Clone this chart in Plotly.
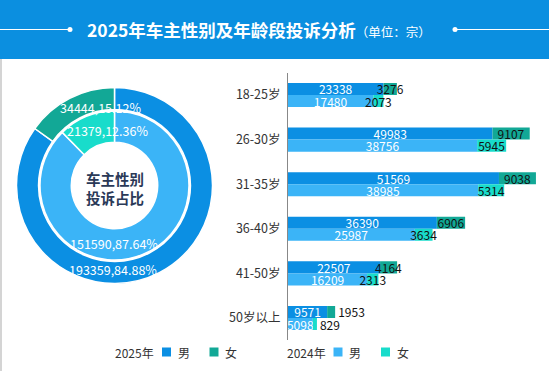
import plotly.graph_objects as go

# ---------------- data ----------------
categories = ['18-25岁', '26-30岁', '31-35岁', '36-40岁', '41-50岁', '50岁以上']
male_2025 = [23338, 49983, 51569, 36390, 22507, 9571]
female_2025 = [3276, 9107, 9038, 6906, 4164, 1953]
male_2024 = [17480, 38756, 38985, 25987, 16209, 5098]
female_2024 = [2073, 5945, 5314, 3634, 2313, 829]

gender_labels = ['男', '女']
gender_2025 = [193359, 34444]
gender_2024 = [151590, 21379]

year_labels = ['2025年', '2024年']
title_text = '2025年车主性别及年龄段投诉分析'
unit_text = '（单位：宗）'
center_text = ['车主性别', '投诉占比']

# ---------------- style ----------------
W, H = 549, 371
FONT = 'Noto Sans CJK SC, Microsoft YaHei, sans-serif'
C_M25 = '#0b8fe3'
C_F25 = '#12a896'
C_M24 = '#3bb4f7'
C_F24 = '#18dccb'
HEADER = '#0b8fe0'
# label placement for the small female segments (last row sits outside the bar)
female_textpos = ['inside'] * 5 + ['outside']


def px_x(v):
    return v / W


def px_y(v):
    return 1 - v / H


fig = go.Figure()

# ---------------- donut ----------------
def pie_domain(cx, cy, r):
    return dict(x=[px_x(cx - r), px_x(cx + r)], y=[px_y(cy + r), px_y(cy - r)])


fig.add_trace(go.Pie(
    labels=gender_labels, values=gender_2025, sort=False, direction='clockwise', rotation=0,
    hole=0.775, domain=pie_domain(114.5, 185.5, 98),
    marker=dict(colors=[C_M25, C_F25], line=dict(color='white', width=1.5)),
    textinfo='none', hoverinfo='skip', showlegend=False))
fig.add_trace(go.Pie(
    labels=gender_labels, values=gender_2024, sort=False, direction='clockwise', rotation=0,
    hole=0.58, domain=pie_domain(114.5, 185.5, 74.5),
    marker=dict(colors=[C_M24, C_F24], line=dict(color='white', width=1.5)),
    textinfo='none', hoverinfo='skip', showlegend=False))


def pct_label(vals, i):
    return f"{vals[i]},{vals[i] / sum(vals) * 100:.2f}%"


pie_label_pos = [
    (gender_2025, 1, 100, 108),
    (gender_2025, 0, 113, 269),
    (gender_2024, 1, 107, 130),
    (gender_2024, 0, 114, 243),
]
annotations = []
for vals, i, x, y in pie_label_pos:
    annotations.append(dict(
        text=pct_label(vals, i), x=px_x(x), y=px_y(y), xref='paper', yref='paper',
        showarrow=False, font=dict(family=FONT, size=12.5, color='white'),
        xanchor='center', yanchor='middle'))

annotations.append(dict(
    text='<b>' + '<br>'.join(center_text) + '</b>', x=px_x(114.5), y=px_y(187.5),
    xref='paper', yref='paper', showarrow=False,
    font=dict(family=FONT, size=14.5, color='#2a3957'), xanchor='center', yanchor='middle'))

# ---------------- bars ----------------
BW = 0.27
bar_common = dict(orientation='h', insidetextanchor='middle', showlegend=False,
                  textangle=0, constraintext='none', cliponaxis=False, hoverinfo='skip')
fig.add_trace(go.Bar(
    y=categories, x=male_2025, name='2025年 男',
    marker=dict(color=C_M25, line=dict(width=0)), width=BW, offset=-BW,
    text=male_2025, textposition='inside',
    textfont=dict(family=FONT, size=12, color='white'), **bar_common))
fig.add_trace(go.Bar(
    y=categories, x=female_2025, base=male_2025, name='2025年 女',
    marker=dict(color=C_F25, line=dict(width=0)), width=BW, offset=-BW,
    text=female_2025, textposition=female_textpos,
    textfont=dict(family=FONT, size=12, color='#111111'), **bar_common))
fig.add_trace(go.Bar(
    y=categories, x=male_2024, name='2024年 男', xaxis='x2',
    marker=dict(color=C_M24, line=dict(width=0)), width=BW, offset=0,
    text=male_2024, textposition='inside',
    textfont=dict(family=FONT, size=12, color='white'), **bar_common))
fig.add_trace(go.Bar(
    y=categories, x=female_2024, base=male_2024, name='2024年 女', xaxis='x2',
    marker=dict(color=C_F24, line=dict(width=0)), width=BW, offset=0,
    text=female_2024, textposition=female_textpos,
    textfont=dict(family=FONT, size=12, color='#111111'), **bar_common))

# ---------------- header ----------------
shapes = [
    dict(type='rect', xref='paper', yref='paper', x0=0, x1=1, y0=px_y(59), y1=1,
         fillcolor=HEADER, line=dict(width=0), layer='below'),
    dict(type='line', xref='paper', yref='paper', x0=0, x1=px_x(69), y0=px_y(29.5), y1=px_y(29.5),
         line=dict(color='white', width=1)),
    dict(type='line', xref='paper', yref='paper', x0=px_x(455), x1=1, y0=px_y(29.5), y1=px_y(29.5),
         line=dict(color='white', width=1)),
    dict(type='circle', xref='paper', yref='paper', x0=px_x(67.5), x1=px_x(72.5),
         y0=px_y(32), y1=px_y(27), fillcolor='white', line=dict(width=0)),
    dict(type='circle', xref='paper', yref='paper', x0=px_x(452.5), x1=px_x(457.5),
         y0=px_y(32), y1=px_y(27), fillcolor='white', line=dict(width=0)),
    dict(type='line', xref='paper', yref='paper', x0=px_x(1), x1=px_x(1), y0=0, y1=px_y(59),
         line=dict(color='#d4d4d4', width=2)),
]
annotations.append(dict(
    text='<b>' + title_text + '</b><span style="font-size:12.5px">' + unit_text + '</span>',
    x=px_x(259), y=px_y(29.5), xref='paper', yref='paper', showarrow=False,
    font=dict(family=FONT, size=17.5, color='white'), xanchor='center', yanchor='middle'))

# ---------------- legend (year title + swatches) ----------------
LEG_Y = 352
LEG_FONT = dict(family=FONT, size=12, color='#333333')
legend_groups = [
    (year_labels[0], 114, [(C_M25, gender_labels[0], 162), (C_F25, gender_labels[1], 209.5)]),
    (year_labels[1], 285.5, [(C_M24, gender_labels[0], 333.5), (C_F24, gender_labels[1], 381)]),
]
for year, xt, items in legend_groups:
    annotations.append(dict(
        text=year, x=px_x(xt), y=px_y(LEG_Y), xref='paper', yref='paper', showarrow=False,
        font=LEG_FONT, xanchor='left', yanchor='middle', xshift=-1))
    for color, name, xs in items:
        shapes.append(dict(type='rect', xref='paper', yref='paper',
                           x0=px_x(xs), x1=px_x(xs + 9), y0=px_y(LEG_Y + 4.5), y1=px_y(LEG_Y - 4.5),
                           fillcolor=color, line=dict(width=0)))
        annotations.append(dict(
            text=name, x=px_x(xs + 14.5), y=px_y(LEG_Y), xref='paper', yref='paper',
            showarrow=False, font=LEG_FONT, xanchor='left', yanchor='middle', xshift=-1))

fig.update_layout(
    width=W, height=H, margin=dict(l=0, r=0, t=0, b=0),
    paper_bgcolor='white', plot_bgcolor='white',
    barmode='overlay', showlegend=False,
    font=dict(family=FONT, size=12, color='#333333'),
    xaxis=dict(domain=[px_x(288), 1], range=[0, 63800], visible=False, fixedrange=True),
    xaxis2=dict(domain=[px_x(288), 1], range=[0, 53480], visible=False, fixedrange=True,
                overlaying='x', anchor='y'),
    yaxis=dict(domain=[px_y(340.3), px_y(72.7)], type='category', categoryorder='array',
               categoryarray=categories, autorange='reversed', showline=True,
               linecolor='#888888', linewidth=1, ticks='', showgrid=False, zeroline=False,
               tickfont=dict(family=FONT, size=12.5, color='#333333'), ticklabelstandoff=4,
               fixedrange=True),
    shapes=shapes, annotations=annotations,
)

fig.write_html('out.html', config={'displayModeBar': False}, post_script=(
    "document.body.style.margin='0';document.body.style.padding='0';"
    "document.documentElement.style.overflow='hidden';"))
